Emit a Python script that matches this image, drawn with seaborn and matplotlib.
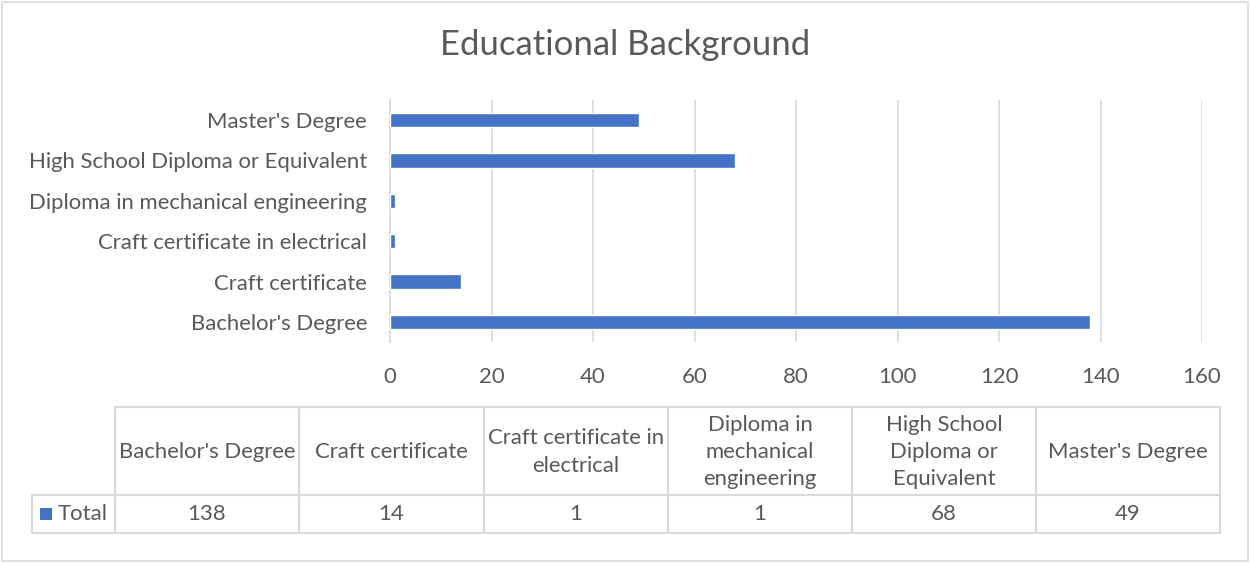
import matplotlib
matplotlib.use("Agg")
import matplotlib.pyplot as plt
from matplotlib.patches import Rectangle
from matplotlib.lines import Line2D
import seaborn as sns
import pandas as pd

# Survey data: highest qualification of respondents
categories = [
    "Bachelor's Degree",
    "Craft certificate",
    "Craft certificate in electrical",
    "Diploma in mechanical engineering",
    "High School Diploma or Equivalent",
    "Master's Degree",
]
totals = [138, 14, 1, 1, 68, 49]
series_name = "Total"
title = "Educational Background"
x_ticks = [0, 20, 40, 60, 80, 100, 120, 140, 160]

BAR = "#4472C4"
TEXT = "#595959"
GRID = "#D9D9D9"
FONT = ["Lato", "DejaVu Sans"]

sns.set_theme(style="white")
plt.rcParams["font.family"] = FONT

W, H = 1250, 563
fig = plt.figure(figsize=(W / 100, H / 100), dpi=100)


def fx(x):
    return x / W


def fy(y):
    return 1 - y / H


# outer chart frame
fig.patches.append(Rectangle((fx(2), fy(561)), fx(1246), 559 / H, transform=fig.transFigure,
                             fill=False, edgecolor=GRID, linewidth=1.2))

fig.text(fx(625), fy(45), title, ha="center", va="center", fontsize=25, color=TEXT)

label_size = 15.9

# bar chart
ax = fig.add_axes([fx(390), fy(342), fx(1202) - fx(390), (342 - 100) / H])
df = pd.DataFrame({"category": categories, "total": totals})
order = categories[::-1]
sns.barplot(data=df, x="total", y="category", order=order, color=BAR, width=0.35,
            saturation=1, ax=ax, zorder=3)
ax.set_xlim(0, 160)
ax.set_xticks(x_ticks)
ax.set_xlabel("")
ax.set_ylabel("")
ax.grid(axis="x", color=GRID, linewidth=1.2, zorder=0)
ax.grid(axis="y", visible=False)
for s in ["top", "right", "bottom"]:
    ax.spines[s].set_visible(False)
ax.spines["left"].set_color(GRID)
ax.spines["left"].set_linewidth(1.2)
ax.tick_params(axis="x", length=0, pad=18, labelsize=label_size, labelcolor=TEXT)
ax.tick_params(axis="y", length=0, pad=16.5, labelsize=label_size, labelcolor=TEXT)

# data table below the chart
col_edges = [115, 299, 484, 668, 852, 1036, 1220]
head_top, head_bot, row_bot = 407, 495, 533
legend_left = 32
lw = 1.5


def hline(x0, x1, y):
    fig.lines.append(Line2D([fx(x0), fx(x1)], [fy(y), fy(y)], transform=fig.transFigure,
                            color=GRID, linewidth=lw))


def vline(x, y0, y1):
    fig.lines.append(Line2D([fx(x), fx(x)], [fy(y0), fy(y1)], transform=fig.transFigure,
                            color=GRID, linewidth=lw))


hline(col_edges[0], col_edges[-1], head_top)
hline(legend_left, col_edges[-1], head_bot)
hline(legend_left, col_edges[-1], row_bot)
vline(legend_left, head_bot, row_bot)
for x in col_edges:
    vline(x, head_top, row_bot)

renderer = fig.canvas.get_renderer()


def wrap(label, max_px, size):
    words = label.split()
    lines, cur = [], ""
    for w in words:
        trial = (cur + " " + w).strip()
        t = fig.text(0, 0, trial, fontsize=size)
        width = t.get_window_extent(renderer).width
        t.remove()
        if width <= max_px or not cur:
            cur = trial
        else:
            lines.append(cur)
            cur = w
    lines.append(cur)
    return "\n".join(lines)


cell_size = label_size
for i, (cat, val) in enumerate(zip(categories, totals)):
    x0, x1 = col_edges[i], col_edges[i + 1]
    cx = (x0 + x1) / 2
    fig.text(fx(cx), fy((head_top + head_bot) / 2 + 1), wrap(cat, (x1 - x0) - 2, cell_size),
             ha="center", va="center", fontsize=cell_size, color=TEXT, linespacing=1.45)
    fig.text(fx(cx), fy((head_bot + row_bot) / 2), str(val),
             ha="center", va="center", fontsize=cell_size, color=TEXT)

# legend key for the series row
fig.patches.append(Rectangle((fx(40), fy(520)), fx(12), 12 / H, transform=fig.transFigure,
                             facecolor=BAR, edgecolor="none"))
fig.text(fx(58), fy((head_bot + row_bot) / 2), series_name, ha="left", va="center",
         fontsize=cell_size, color=TEXT)

fig.savefig("out.png", dpi=100, facecolor="white")
